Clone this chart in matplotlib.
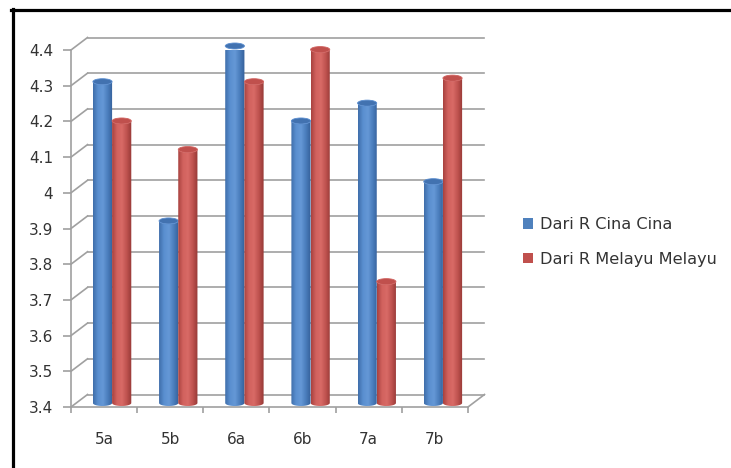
import numpy as np
import matplotlib
matplotlib.use("Agg")
import matplotlib.pyplot as plt
import matplotlib.transforms as mtransforms
from matplotlib.path import Path
from matplotlib.patches import PathPatch, Ellipse, Rectangle
from matplotlib.lines import Line2D
from matplotlib.colors import to_rgb

categories = ["5a", "5b", "6a", "6b", "7a", "7b"]
cina = [4.30, 3.91, 4.40, 4.19, 4.24, 4.02]
melayu = [4.19, 4.11, 4.30, 4.39, 3.74, 4.31]
series_names = ["Dari R Cina Cina", "Dari R Melayu Melayu"]
yticks = [3.4, 3.5, 3.6, 3.7, 3.8, 3.9, 4.0, 4.1, 4.2, 4.3, 4.4]
ytick_labels = ["3.4", "3.5", "3.6", "3.7", "3.8", "3.9", "4", "4.1", "4.2", "4.3", "4.4"]

W, H = 731, 468
fig = plt.figure(figsize=(W / 100, H / 100), dpi=100)
plt.rcParams['font.family'] = ['DejaVu Sans']
ax = fig.add_axes([71 / W, 61 / H, 397 / W, 357 / H])
n = len(categories)
ax.set_xlim(-0.5, n - 0.5)
ax.set_ylim(yticks[0], yticks[-1])

grid_c = "#A0A0A0"
text_c = "#333333"
lw = 1.2

for s in ["top", "right"]:
    ax.spines[s].set_visible(False)
for s in ["left", "bottom"]:
    ax.spines[s].set_color(grid_c)
    ax.spines[s].set_linewidth(lw)

ax.set_yticks(yticks)
ax.set_yticklabels(ytick_labels)
ax.tick_params(axis="y", length=5.8, width=lw, color=grid_c, pad=7,
               labelsize=11, labelcolor=text_c)
ax.set_xticks(np.arange(-0.5, n, 1.0))
ax.set_xticklabels([])
ax.set_xticks(np.arange(n), minor=True)
ax.set_xticklabels(categories, minor=True)
ax.tick_params(axis="x", which="major", length=4, width=lw, color=grid_c)
ax.tick_params(axis="x", which="minor", length=0, pad=18, labelsize=11,
               labelcolor=text_c)

back = mtransforms.offset_copy(ax.transData, fig, x=16.5, y=12.5, units="dots")
mid = mtransforms.offset_copy(ax.transData, fig, x=8, y=4, units="dots")

x0, x1 = -0.5, n - 0.5
# back wall gridlines and side wall
for v in yticks:
    ax.add_line(Line2D([x0, x1], [v, v], transform=back, color=grid_c, lw=lw,
                       clip_on=False))
    p0 = ax.transData.transform((x0, v))
    ax.add_line(Line2D([p0[0], p0[0] + 16.5], [p0[1], p0[1] + 12.5],
                       transform=None, color=grid_c, lw=lw, clip_on=False))
# floor right edge
p1 = ax.transData.transform((x1, yticks[0]))
ax.add_line(Line2D([p1[0], p1[0] + 16.5], [p1[1], p1[1] + 12.5],
                   transform=None, color=grid_c, lw=lw, clip_on=False))

# pixel->data for ellipse radius
px_per_unit = ax.transData.transform((0, 1))[1] - ax.transData.transform((0, 0))[1]
ry = 3.0 / px_per_unit

def shade(cols, N=64):
    stops = np.linspace(0, 1, len(cols))
    rgb = np.array([to_rgb(c) for c in cols])
    t = np.linspace(0, 1, N)
    out = np.stack([np.interp(t, stops, rgb[:, k]) for k in range(3)], axis=-1)
    return out[np.newaxis, :, :]

blue_grad = shade(["#3F6EAA", "#5A8FD0", "#6598D6", "#4A7DBC", "#355F99"])
red_grad = shade(["#A8423F", "#D2625E", "#D86A66", "#BE524F", "#953835"])
cap_cols = ["#4272B0", "#C0504D"]
bw = 0.29
offs = [-0.145, 0.145]

def cylinder(xc, top, grad, capc, z):
    bottom = yticks[0]
    rx = bw / 2
    t = np.linspace(0, np.pi, 40)
    left_x, right_x = xc - rx, xc + rx
    verts = [(left_x, top), (left_x, bottom)]
    verts += list(zip(xc - rx * np.cos(t), bottom - ry * np.sin(t)))
    verts += [(right_x, bottom), (right_x, top)]
    verts += list(zip(xc + rx * np.cos(t), top - ry * np.sin(t)))
    verts.append((left_x, top))
    path = Path(verts)
    patch = PathPatch(path, transform=mid, facecolor="none", edgecolor="none",
                      clip_on=False, zorder=z)
    ax.add_patch(patch)
    im = ax.imshow(grad, extent=(left_x, right_x, bottom - ry, top + ry),
                   transform=mid, aspect="auto", interpolation="bilinear",
                   zorder=z)
    im.set_clip_path(patch)
    ax.add_patch(Ellipse((xc, top), bw, 2 * ry, transform=mid, facecolor=capc,
                         edgecolor="#5B8ED0" if z < 3.5 else "#D06360", lw=0.6,
                         clip_on=False, zorder=z + 0.01))

for i in range(n):
    cylinder(i + offs[0], cina[i], blue_grad, cap_cols[0], 3)
    cylinder(i + offs[1], melayu[i], red_grad, cap_cols[1], 4)

ax.set_xlim(-0.5, n - 0.5)
ax.set_ylim(yticks[0], yticks[-1])

handles = [Rectangle((0, 0), 1, 1, facecolor="#4F81BD", edgecolor="none"),
           Rectangle((0, 0), 1, 1, facecolor="#C0504D", edgecolor="none")]
ax.legend(handles, series_names, loc="center left",
          bbox_to_anchor=(523 / W, (H - 242) / H), bbox_transform=fig.transFigure,
          frameon=False, fontsize=11.6, handlelength=0.62, handleheight=0.62,
          handletextpad=0.42, labelspacing=1.2, borderpad=0, borderaxespad=0,
          labelcolor=text_c)

# outer frame (top and left visible)
fig.add_artist(Line2D([11 / W, 1.0], [(H - 9.5) / H, (H - 9.5) / H],
                      transform=fig.transFigure, color="black", lw=2.3))
fig.add_artist(Line2D([12.5 / W, 12.5 / W], [0, (H - 8.5) / H],
                      transform=fig.transFigure, color="black", lw=2.3))

fig.savefig("out.png", dpi=100)
